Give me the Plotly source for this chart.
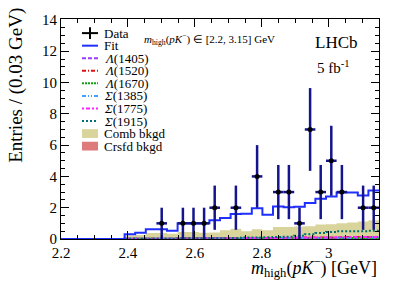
import numpy as np
import plotly.graph_objects as go

# ---------------- data ----------------
x_lo, x_hi, n_bins = 2.2, 3.15, 30
counts = [0, 0, 0, 0, 0, 0, 0, 0, 0, 1, 0, 1, 1, 1, 2, 0,
          2, 0, 4, 0, 3, 3, 1, 7, 3, 5, 3, 0, 2, 2]
fit = [0, 0, 0, 0, 0, 0, 0.3, 0.4, 0.62, 0.62, 0.53, 1.0, 1.0, 1.0, 1.2, 1.35,
       1.6, 1.62, 1.97, 1.55, 2.08, 2.03, 2.06, 2.3, 2.58, 2.72, 2.97, 2.97, 2.78, 3.1]
comb = [0, 0, 0, 0, 0, 0, 0.22, 0.25, 0.38, 0.38, 0.33, 0.45, 0.45, 0.4, 0.42, 0.56,
        0.66, 0.5, 0.62, 0.56, 0.77, 0.77, 0.8, 0.82, 0.93, 0.95, 1.0, 1.05, 1.12, 1.2]
crsfd = [0, 0, 0, 0, 0, 0, 0.02, 0.03, 0.04, 0.04, 0.05, 0.05, 0.06, 0.06, 0.07, 0.07,
         0.08, 0.08, 0.09, 0.09, 0.1, 0.1, 0.1, 0.11, 0.11, 0.12, 0.12, 0.12, 0.13, 0.13]
lam1405 = [0, 0, 0, 0, 0, 0, 0.01, 0.01, 0.02, 0.02, 0.02, 0.03, 0.03, 0.03, 0.04, 0.04,
           0.04, 0.05, 0.05, 0.05, 0.05, 0.06, 0.06, 0.06, 0.06, 0.07, 0.07, 0.07, 0.07, 0.08]
lam1520 = [0, 0, 0, 0, 0, 0, 0.01, 0.01, 0.01, 0.02, 0.02, 0.02, 0.03, 0.03, 0.04, 0.04,
           0.05, 0.05, 0.06, 0.06, 0.07, 0.07, 0.08, 0.09, 0.1, 0.1, 0.11, 0.12, 0.12, 0.13]
lam1670 = [0, 0, 0, 0, 0, 0, 0.01, 0.01, 0.01, 0.01, 0.02, 0.02, 0.02, 0.02, 0.03, 0.03,
           0.03, 0.03, 0.04, 0.04, 0.04, 0.04, 0.05, 0.05, 0.05, 0.05, 0.06, 0.06, 0.06, 0.06]
sig1385 = [0, 0, 0, 0, 0, 0, 0.01, 0.01, 0.02, 0.02, 0.03, 0.03, 0.03, 0.04, 0.04, 0.04,
           0.05, 0.05, 0.05, 0.06, 0.06, 0.06, 0.07, 0.07, 0.07, 0.08, 0.08, 0.08, 0.09, 0.09]
sig1775 = [0, 0, 0, 0, 0, 0, 0.01, 0.01, 0.02, 0.02, 0.02, 0.03, 0.03, 0.04, 0.04, 0.05,
           0.05, 0.06, 0.06, 0.07, 0.07, 0.08, 0.08, 0.09, 0.1, 0.1, 0.11, 0.12, 0.12, 0.13]
sig1915 = [0, 0, 0, 0, 0, 0, 0.01, 0.01, 0.02, 0.02, 0.02, 0.04, 0.04, 0.04, 0.05, 0.05,
           0.06, 0.1, 0.1, 0.11, 0.12, 0.15, 0.2, 0.3, 0.38, 0.45, 0.5, 0.5, 0.5, 0.52]

x_ticks = [2.2, 2.4, 2.6, 2.8, 3.0]
x_tick_labels = ["2.2", "2.4", "2.6", "2.8", "3"]
y_ticks = [0, 2, 4, 6, 8, 10, 12, 14]

# legend entries: (label, kind, colour, dash)
legend_entries = [
    ("Data", "data", "black", None),
    ("Fit", "line", "#1f2fff", "solid"),
    ("<i>Λ</i>(1405)", "line", "#9a3cff", "4px,2px"),
    ("<i>Λ</i>(1520)", "line", "#e01010", "4px,2px,1px,2px"),
    ("<i>Λ</i>(1670)", "line", "#10a010", "2px,1px"),
    ("<i>Σ</i>(1385)", "line", "#3fa0ff", "4px,2px,1px,2px,1px,2px"),
    ("<i>Σ</i>(1775)", "line", "#ff20ff", "2px,2px,4px,2px"),
    ("<i>Σ</i>(1915)", "line", "#007070", "2px,2px"),
    ("Comb bkgd", "box", "#d9d49b", None),
    ("Crsfd bkgd", "box", "#de7a7a", None),
]

# ---------------- derived ----------------
width = (x_hi - x_lo) / n_bins
edges = x_lo + width * np.arange(n_bins + 1)
centers = 0.5 * (edges[:-1] + edges[1:])


def step(vals):
    return list(edges), list(vals) + [vals[-1]]


fig = go.Figure()
FONT = "Liberation Serif, Times New Roman, serif"

# filled backgrounds
for vals, col in [(comb, "#d9d49b"), (crsfd, "#de7a7a")]:
    xs, ys = step(vals)
    fig.add_trace(go.Scatter(x=xs, y=ys, mode="lines", line=dict(shape="hv", width=0, color=col),
                             fill="tozeroy", fillcolor=col, showlegend=False, hoverinfo="skip"))

# component lines
comp_series = [lam1405, lam1520, lam1670, sig1385, sig1775, sig1915]
for vals, ent in zip(comp_series, legend_entries[2:8]):
    xs, ys = step(vals)
    fig.add_trace(go.Scatter(x=xs, y=ys, mode="lines",
                             line=dict(shape="hv", width=2, color=ent[2], dash=ent[3]),
                             showlegend=False, hoverinfo="skip"))

# fit
xs, ys = step(fit)
fig.add_trace(go.Scatter(x=xs, y=ys, mode="lines", line=dict(shape="hv", width=2, color="#1f2fff"),
                         showlegend=False))

# data
sel = [i for i, c in enumerate(counts) if c > 0]
dx = [centers[i] for i in sel]
dy = [counts[i] for i in sel]
fig.add_trace(go.Scatter(
    x=dx, y=dy, mode="markers",
    marker=dict(color="black", size=5),
    error_y=dict(type="data", array=[np.sqrt(c) for c in dy], color="#14148c", thickness=2.5, width=0),
    error_x=dict(type="data", array=[width / 2] * len(dx), color="#14148c", thickness=2.5, width=0),
    showlegend=False))

# ---------------- layout ----------------
L, R, T, B = 61, 20, 13, 47
W, H = 399, 286
pw, ph = W - L - R, H - T - B


def px_x(p):
    return (p - L) / pw


def px_y(p):
    return 1 - (p - T) / ph


shapes = []
annotations = []
row0, dy_row = 27.5, 12.9
kx0, kx1 = 82, 98
for i, (lab, kind, col, dash) in enumerate(legend_entries):
    yc = row0 + dy_row * i
    if kind == "line":
        shapes.append(dict(type="line", xref="paper", yref="paper",
                           x0=px_x(kx0), x1=px_x(kx1), y0=px_y(yc), y1=px_y(yc),
                           line=dict(color=col, width=2, dash=dash)))
    elif kind == "box":
        shapes.append(dict(type="rect", xref="paper", yref="paper",
                           x0=px_x(kx0), x1=px_x(kx1), y0=px_y(yc + 4.5), y1=px_y(yc - 4.5),
                           fillcolor=col, line=dict(width=0)))
    else:
        shapes.append(dict(type="line", xref="paper", yref="paper",
                           x0=px_x(kx0), x1=px_x(kx1), y0=px_y(yc), y1=px_y(yc),
                           line=dict(color="black", width=2)))
        shapes.append(dict(type="line", xref="paper", yref="paper",
                           x0=px_x((kx0 + kx1) / 2), x1=px_x((kx0 + kx1) / 2),
                           y0=px_y(yc - 6), y1=px_y(yc + 6),
                           line=dict(color="black", width=2)))
    annotations.append(dict(text=lab, xref="paper", yref="paper", x=px_x(103), y=px_y(yc),
                            xanchor="left", yanchor="middle", showarrow=False, borderpad=0,
                            font=dict(family=FONT, size=13, color="black")))

annotations += [
    dict(text="<i>m</i><sub>high</sub>(<i>pK</i><sup>−</sup>) ∈ [2.2, 3.15] GeV",
         xref="paper", yref="paper", x=px_x(142), y=px_y(34), xanchor="left", yanchor="middle",
         showarrow=False, font=dict(family=FONT, size=11, color="black")),
    dict(text="LHCb", xref="paper", yref="paper", x=px_x(313), y=px_y(37), xanchor="left",
         yanchor="middle", showarrow=False, font=dict(family=FONT, size=17, color="black")),
    dict(text="5 fb<sup>-1</sup>", xref="paper", yref="paper", x=px_x(315), y=px_y(62),
         xanchor="left", yanchor="middle", showarrow=False,
         font=dict(family=FONT, size=15, color="black")),
    dict(text="Entries / (0.03 GeV)", xref="paper", yref="paper", x=px_x(16), y=px_y(0),
         xanchor="center", yanchor="top", textangle=-90, showarrow=False,
         font=dict(family=FONT, size=19, color="black")),
    dict(text="<i>m</i><sub>high</sub>(<i>pK</i><sup>−</sup>) [GeV]", xref="paper", yref="paper",
         x=1, y=px_y(268), xanchor="right", yanchor="middle", showarrow=False,
         font=dict(family=FONT, size=18, color="black")),
]

axis_common = dict(showgrid=False, zeroline=False, showline=True, linecolor="black", linewidth=1,
                   ticks="inside", mirror="allticks", ticklen=8, tickcolor="black", tickwidth=1,
                   tickfont=dict(family=FONT, size=15, color="black"))
fig.update_layout(
    width=W, height=H, margin=dict(l=L, r=R, t=T, b=B),
    paper_bgcolor="white", plot_bgcolor="white",
    font=dict(family=FONT),
    xaxis=dict(range=[x_lo, x_hi], tickvals=x_ticks, ticktext=x_tick_labels,
               minor=dict(dtick=0.05, tick0=2.2, ticks="inside", ticklen=4, tickcolor="black"),
               **axis_common),
    yaxis=dict(range=[0, 14.06], tickvals=y_ticks,
               minor=dict(dtick=0.5, tick0=0, ticks="inside", ticklen=4, tickcolor="black"),
               **axis_common),
    shapes=shapes, annotations=annotations, showlegend=False,
)

fig.write_html("out.html", config={"displayModeBar": False},
               post_script="document.body.style.margin='0px';")
